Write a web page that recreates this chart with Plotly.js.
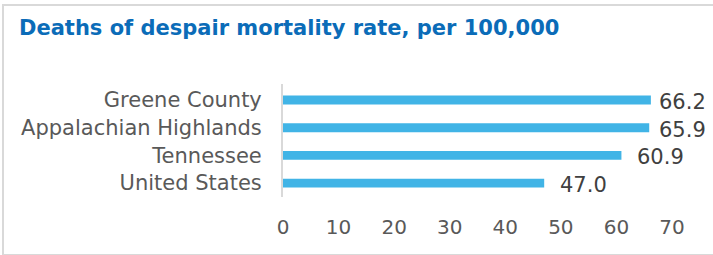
<!DOCTYPE html>
<html>
<head>
<meta charset="utf-8">
<script src="https://cdn.plot.ly/plotly-3.0.1.min.js"></script>
<style>
html,body{margin:0;padding:0;background:#fff;}
#wrap{position:relative;width:713px;height:255px;overflow:hidden;}
#chart{position:absolute;left:0;top:0;width:713px;height:255px;}
#frame{position:absolute;left:2px;top:4px;width:730px;height:248px;border:2px solid #d9d9d9;pointer-events:none;}
</style>
</head>
<body>
<div id="wrap"><div id="chart"></div><div id="frame"></div></div>
<script>
const categories = ["Greene County", "Appalachian Highlands", "Tennessee", "United States"];
const rates = [66.2, 65.9, 60.9, 47.0];
const xTicks = [0, 10, 20, 30, 40, 50, 60, 70];

const labelShift = [6, 8, 14, 14];
const FONT = 'DejaVu Sans, Verdana, sans-serif';

const trace = {
  type: 'bar',
  orientation: 'h',
  y: categories,
  x: rates,
  marker: {color: '#41B4E6'},
  width: 0.32,
  hoverinfo: 'x+y'
};

const annotations = rates.map((v, i) => ({
  x: v, y: categories[i], xref: 'x', yref: 'y',
  text: v.toFixed(1), showarrow: false,
  xanchor: 'left', yanchor: 'middle', xshift: labelShift[i], yshift: -2,
  font: {family: FONT, size: 21, color: '#404040'}
}));

const layout = {
  width: 713, height: 255,
  margin: {l: 283, r: 41, t: 84, b: 58},
  paper_bgcolor: '#fff', plot_bgcolor: '#fff',
  showlegend: false,
  title: {
    text: '<b>Deaths of despair mortality rate, per 100,000</b>',
    x: 19/713, xref: 'container', xanchor: 'left',
    y: 1 - 28/255, yref: 'container', yanchor: 'middle',
    font: {family: FONT, size: 21, color: '#0B6CB8'}
  },
  xaxis: {
    range: [0, 70], tickvals: xTicks, ticktext: xTicks.map(String),
    showgrid: false, zeroline: false, showline: false,
    ticks: 'outside', ticklen: 12, tickcolor: 'rgba(0,0,0,0)',
    tickfont: {family: FONT, size: 20, color: '#595959'},
    fixedrange: true
  },
  yaxis: {
    type: 'category', autorange: 'reversed',
    showgrid: false, zeroline: false,
    showline: true, linecolor: '#d9d9d9', linewidth: 2,
    ticks: 'outside', ticklen: 15, tickcolor: 'rgba(0,0,0,0)',
    tickfont: {family: FONT, size: 21, color: '#595959'},
    fixedrange: true
  },
  annotations: annotations
};

Plotly.newPlot('chart', [trace], layout, {displayModeBar: false, staticPlot: true});
</script>
</body>
</html>
